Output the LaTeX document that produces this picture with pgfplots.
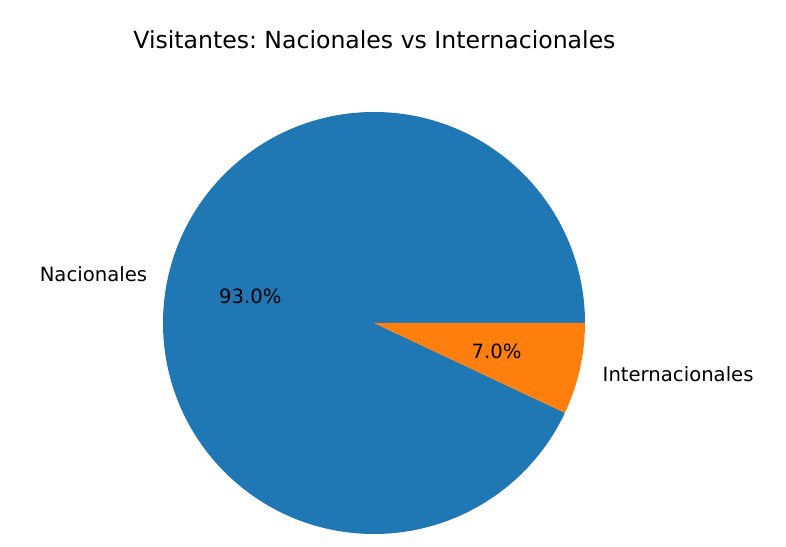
\documentclass[border=0pt]{standalone}
\usepackage{pgfplots}
\usepackage{pgfplotstable}
\pgfplotsset{compat=1.18}
\usepackage{fontspec}
\setmainfont{DejaVu Sans}
\frenchspacing
\definecolor{tabblue}{HTML}{1F77B4}
\definecolor{taborange}{HTML}{FF7F0E}
\pgfplotstableread{
label value
Nacionales 93.0
Internacionales 7.0
}\piedata
\pgfplotstablegetelem{0}{value}\of\piedata\let\va\pgfplotsretval
\pgfplotstablegetelem{1}{value}\of\piedata\let\vb\pgfplotsretval
\pgfmathsetmacro\angA{3.6*\va}
\def\R{107.4pt}
\begin{document}
\frenchspacing
\begin{tikzpicture}
\begin{axis}[
  hide axis, scale only axis, clip=false,
  x=107.4pt, y=107.4pt,
  xmin=-1.7725, xmax=1.9526, ymin=-1.0569, ymax=1.5308,
]
\fill[tabblue] (axis cs:0,0) -- (axis cs:1,0) arc[start angle=0, end angle=\angA, radius=\R] -- cycle;
\fill[taborange] (axis cs:0,0) -- (axis cs:{cos(\angA)},{sin(\angA)}) arc[start angle=\angA, end angle=360, radius=\R] -- cycle;
\node[anchor=base east, inner sep=0pt, font=\fontsize{10}{12}\selectfont] at (axis cs:-1.0737,0.199) {Nacionales};
\node[anchor=base west, inner sep=0pt, font=\fontsize{10}{12}\selectfont] at (axis cs:1.082,-0.278) {Internacionales};
\node[anchor=base, inner sep=0pt, font=\fontsize{10}{12}\selectfont] at (axis cs:-0.5863,0.0934) {93.0\%};
\node[anchor=base, inner sep=0pt, font=\fontsize{10}{12}\selectfont] at (axis cs:0.5806,-0.1673) {7.0\%};
\node[anchor=base, inner sep=0pt, font=\fontsize{12}{14}\selectfont] at (axis cs:0.002,1.2986) {\frenchspacing Visitantes: Nacionales vs Internacionales};
\path (rel axis cs:0,0) rectangle (rel axis cs:1,1);
\end{axis}
\end{tikzpicture}
\end{document}
